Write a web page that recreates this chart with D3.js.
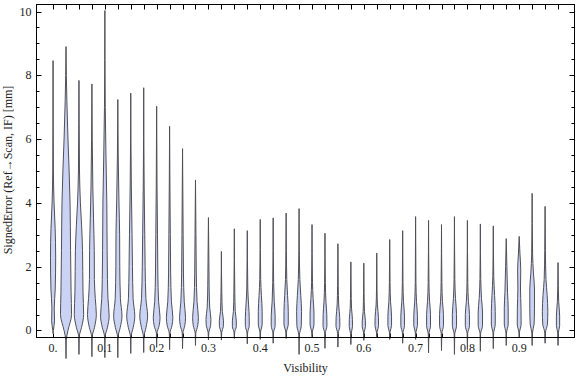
<!DOCTYPE html>
<html><head><meta charset="utf-8">
<script src="https://cdn.jsdelivr.net/npm/d3@7"></script>
<style>body{margin:0;background:#fff}svg{display:block}</style>
</head><body>
<svg id="c" width="576" height="377"></svg>
<script>
// Category positions (Visibility)
const visibility = [0,0.025,0.05,0.075,0.1,0.125,0.15,0.175,0.2,0.225,0.25,0.275,0.3,0.325,0.35,0.375,0.4,0.425,0.45,0.475,0.5,0.525,0.55,0.575,0.6,0.625,0.65,0.675,0.7,0.725,0.75,0.775,0.8,0.825,0.85,0.875,0.9,0.925,0.95,0.975];
// Lowest / highest signed error of each distribution [mm]
const errMin = [-0.1,-0.88,-0.75,-0.82,-0.85,-0.85,-0.72,-0.69,-0.53,-0.6,-0.57,-0.47,-0.3,-0.3,-0.25,-0.42,-0.28,-0.4,-0.25,-0.75,-0.2,-0.56,-0.52,-0.44,-0.31,-0.2,-0.28,-0.4,-0.28,-0.7,-0.63,-0.75,-0.6,-0.65,-0.57,-0.47,-0.21,-0.47,-0.4,-0.47];
const errMax = [8.46,8.9,7.84,7.73,10.03,7.24,7.44,7.61,7.03,6.4,5.7,4.72,3.54,2.48,3.19,3.13,3.48,3.53,3.68,3.82,3.32,3.05,2.72,2.15,2.11,2.43,2.85,3.13,3.57,3.45,3.32,3.57,3.45,3.34,3.28,2.88,2.95,4.3,3.89,2.13];
// Relative density profile of each distribution: [error value, density]
const densityProfiles = [
 [[0.0,0.04],[0.3,0.22],[0.7,0.18],[1.3,0.33],[2.3,0.4],[3.2,0.32],[4,0.15],[5,0.05],[6.5,0.02]],
 [[-0.3,0.04],[0,0.3],[0.5,0.85],[1.2,0.78],[2.5,0.7],[4,0.62],[5,0.48],[6,0.3],[7.2,0.13],[8,0.05]],
 [[-0.2,0.04],[0.1,0.4],[0.5,0.72],[1.2,0.62],[2.5,0.55],[3.3,0.4],[4,0.22],[5,0.08],[6.5,0.03]],
 [[-0.2,0.04],[0.1,0.4],[0.5,0.68],[1,0.52],[1.6,0.38],[2.5,0.36],[3.5,0.25],[4.5,0.14],[6,0.05]],
 [[-0.2,0.04],[0.1,0.4],[0.45,0.66],[1,0.48],[1.6,0.4],[2.5,0.35],[4,0.3],[5.5,0.17],[7,0.06],[8.5,0.02]],
 [[-0.2,0.04],[0.1,0.38],[0.45,0.64],[1,0.4],[2,0.3],[3,0.28],[4,0.18],[5.5,0.06]],
 [[-0.2,0.04],[0.1,0.38],[0.45,0.62],[1,0.36],[2,0.26],[3,0.2],[4.5,0.09]],
 [[-0.2,0.04],[0.1,0.36],[0.45,0.6],[1,0.34],[2,0.22],[3,0.16],[4.5,0.07]],
 [[-0.1,0.04],[0.15,0.38],[0.4,0.52],[0.9,0.3],[1.8,0.18],[3,0.13],[4.5,0.06]],
 [[-0.1,0.04],[0.15,0.36],[0.4,0.5],[0.9,0.28],[1.8,0.16],[3,0.11],[4.5,0.05]],
 [[-0.1,0.04],[0.15,0.34],[0.4,0.46],[0.9,0.26],[1.8,0.14],[3,0.09],[4.5,0.04]],
 [[-0.1,0.04],[0.15,0.34],[0.4,0.44],[0.9,0.24],[1.8,0.12],[3,0.07]],
 [[-0.05,0.05],[0.15,0.34],[0.35,0.38],[0.7,0.2],[1.4,0.1],[2.5,0.05]],
 [[-0.05,0.05],[0.12,0.3],[0.3,0.32],[0.6,0.14],[1.2,0.06]],
 [[-0.05,0.05],[0.12,0.3],[0.3,0.3],[0.6,0.14],[1.2,0.07]],
 [[-0.08,0.04],[0.15,0.3],[0.4,0.3],[0.8,0.2],[1.3,0.08]],
 [[-0.05,0.05],[0.2,0.3],[0.6,0.3],[1.1,0.18],[1.6,0.07]],
 [[-0.08,0.04],[0.15,0.3],[0.45,0.3],[0.9,0.16],[1.5,0.07]],
 [[-0.05,0.05],[0.2,0.33],[0.6,0.33],[1.1,0.22],[1.6,0.1],[2.5,0.04]],
 [[-0.15,0.04],[0.15,0.34],[0.6,0.38],[1.1,0.26],[1.6,0.12],[2.5,0.04]],
 [[-0.05,0.05],[0.2,0.3],[0.55,0.3],[1,0.17],[1.5,0.07]],
 [[-0.1,0.04],[0.15,0.3],[0.5,0.28],[0.9,0.15],[1.5,0.06]],
 [[-0.1,0.04],[0.15,0.3],[0.4,0.28],[0.8,0.12],[1.4,0.05]],
 [[-0.1,0.04],[0.12,0.25],[0.35,0.24],[0.7,0.1],[1.3,0.04]],
 [[-0.05,0.05],[0.12,0.25],[0.3,0.24],[0.6,0.1],[1.2,0.04]],
 [[-0.05,0.05],[0.15,0.27],[0.4,0.26],[0.8,0.1],[1.3,0.04]],
 [[-0.05,0.05],[0.15,0.28],[0.45,0.28],[0.9,0.13],[1.5,0.05]],
 [[-0.08,0.04],[0.15,0.28],[0.45,0.28],[0.9,0.13],[1.5,0.05]],
 [[-0.05,0.05],[0.15,0.28],[0.45,0.28],[0.9,0.14],[1.5,0.05]],
 [[-0.12,0.04],[0.15,0.3],[0.5,0.3],[0.9,0.16],[1.5,0.06]],
 [[-0.1,0.04],[0.15,0.3],[0.5,0.3],[0.9,0.15],[1.5,0.06]],
 [[-0.12,0.04],[0.15,0.32],[0.5,0.32],[1,0.16],[1.6,0.06]],
 [[-0.1,0.04],[0.15,0.32],[0.5,0.32],[0.9,0.16],[1.5,0.06]],
 [[-0.1,0.04],[0.15,0.33],[0.55,0.34],[1,0.18],[1.6,0.06]],
 [[-0.1,0.04],[0.2,0.3],[0.6,0.3],[1.1,0.2],[1.7,0.07]],
 [[-0.08,0.04],[0.2,0.3],[0.7,0.3],[1.2,0.2],[2,0.1]],
 [[-0.05,0.05],[0.2,0.3],[0.7,0.28],[1.3,0.2],[1.9,0.24],[2.4,0.12]],
 [[-0.08,0.04],[0.2,0.3],[0.7,0.36],[1.3,0.36],[1.8,0.2],[2.4,0.07]],
 [[-0.08,0.04],[0.2,0.36],[0.6,0.42],[1.1,0.32],[1.6,0.14],[2.5,0.05]],
 [[-0.08,0.04],[0.15,0.25],[0.45,0.25],[0.9,0.1],[1.4,0.04]]
];
const xTickValues = [0,0.1,0.2,0.3,0.4,0.5,0.6,0.7,0.8,0.9];
const xTickLabels = ["0.","0.1","0.2","0.3","0.4","0.5","0.6","0.7","0.8","0.9"];
const yMajorTicks = [0,2,4,6,8,10];
const yMinorTicks = [0.5,1,1.5,2.5,3,3.5,4.5,5,5.5,6.5,7,7.5,8.5,9,9.5];
const xTitle = "Visibility";
const yTitle = "SignedError (Ref\u2192Scan, IF) [mm]";

const svg = d3.select("#c");
const L = 36.5, R = 574.5, T = 4.5, B = 337.5;
const x = d3.scaleLinear().domain([-0.032, 1.0068]).range([L, R]);
const y = d3.scaleLinear().domain([-0.22, 10.22]).range([B, T]);
const w = d3.scaleLinear().domain([0, 1]).range([0, 6.5]);
const font = "'Liberation Serif','Times New Roman',serif";

const area = d3.area()
  .curve(d3.curveMonotoneY)
  .y(d => y(d[0]))
  .x0(d => -w(d[1]))
  .x1(d => w(d[1]));

// Frame ticks (drawn under the violins)
const gF = svg.append("g").attr("stroke", "#000").attr("stroke-width", 1).attr("fill", "none");
visibility.forEach(v => {
  const xx = Math.round(x(v)) + 0.5;
  gF.append("line").attr("x1", xx).attr("x2", xx).attr("y1", T).attr("y2", T + 5);
  gF.append("line").attr("x1", xx).attr("x2", xx).attr("y1", B).attr("y2", B - 4);
});
yMajorTicks.forEach(t => {
  const yy = Math.round(y(t)) + 0.5;
  gF.append("line").attr("x1", L).attr("x2", L + 5).attr("y1", yy).attr("y2", yy);
  gF.append("line").attr("x1", R).attr("x2", R - 5).attr("y1", yy).attr("y2", yy);
});
yMinorTicks.forEach(t => {
  const yy = Math.round(y(t)) + 0.5;
  gF.append("line").attr("x1", L).attr("x2", L + 3).attr("y1", yy).attr("y2", yy);
  gF.append("line").attr("x1", R).attr("x2", R - 3).attr("y1", yy).attr("y2", yy);
});

const gV = svg.append("g");
visibility.forEach((v, i) => {
  const pts = [[errMin[i], 0], ...densityProfiles[i], [errMax[i], 0]];
  gV.append("path")
    .attr("transform", `translate(${x(v)},0)`)
    .attr("d", area(pts))
    .attr("fill", "#cbd3f5")
    .attr("stroke", "#505058")
    .attr("stroke-width", 1)
    .attr("stroke-linejoin", "round");
});

// Frame border on top
svg.append("rect").attr("x", L).attr("y", T).attr("width", R - L).attr("height", B - T)
  .attr("fill", "none").attr("stroke", "#000").attr("stroke-width", 1);

// Tick labels
const gT = svg.append("g").attr("font-family", font).attr("font-size", 12).attr("fill", "#222");
xTickValues.forEach((v, i) => {
  gT.append("text").attr("x", x(v)).attr("y", 351.5).attr("text-anchor", "middle").text(xTickLabels[i]);
});
yMajorTicks.forEach(t => {
  gT.append("text").attr("x", 31.5).attr("y", y(t) + 4).attr("text-anchor", "end").text(String(t));
});

// Axis titles
svg.append("text").attr("x", (L + R) / 2).attr("y", 372).attr("text-anchor", "middle")
  .attr("font-family", font).attr("font-size", 12).attr("fill", "#222").text(xTitle);
svg.append("text").attr("transform", "translate(12,170) rotate(-90)").attr("text-anchor", "middle")
  .attr("font-family", font).attr("font-size", 12).attr("fill", "#222").text(yTitle);
</script>
</body></html>
